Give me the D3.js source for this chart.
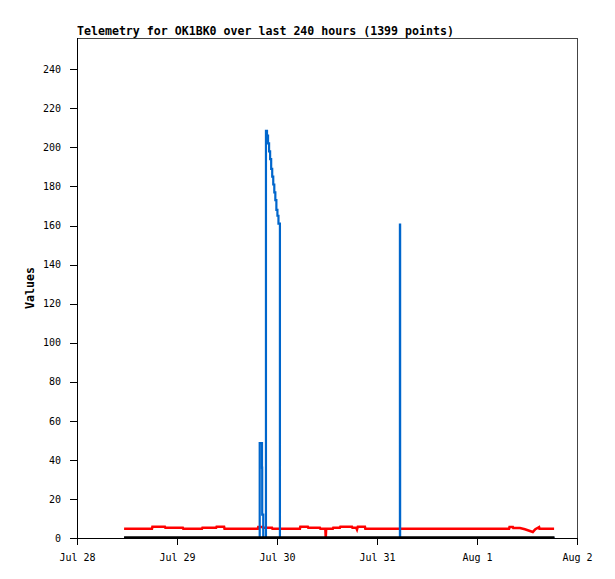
<!DOCTYPE html>
<html>
<head>
<meta charset="utf-8">
<script src="https://cdn.jsdelivr.net/npm/d3@7"></script>
<style>
  body { margin: 0; background: #fff; }
  .tick text { font-family: "DejaVu Sans Mono", monospace; font-size: 10px; }
</style>
</head>
<body>
<script>

// hours since Jul 28 00:00, value
var redSeries = [
  [11.3,4.8],[18.0,4.8],[18.1,5.8],[21.1,5.8],[21.2,5.3],[25.4,5.3],[25.5,4.8],[30.0,4.8],
  [30.1,5.3],[33.4,5.3],[33.5,5.8],[35.3,5.8],[35.4,4.8],[43.4,4.8],[43.5,5.6],[44.6,5.6],
  [44.7,5.3],[46.8,5.3],[46.9,4.8],[53.5,4.8],[53.6,5.8],[55.4,5.8],[55.5,5.3],[58.3,5.3],
  [58.4,4.8],[59.6,4.8],[59.7,0],[59.8,4.8],[61.4,4.8],[61.5,5.3],[63.1,5.3],[63.2,5.8],
  [66.0,5.8],[66.1,5.3],[67.0,5.3],[67.2,4.3],[67.4,5.8],[69.1,5.8],[69.2,4.8],[103.7,4.8],
  [103.8,5.6],[104.6,5.6],[104.7,5.1],[106.3,5.1],[107.5,4.5],[109.4,3.1],[110.0,4.5],
  [110.9,5.6],[111.0,4.8],[114.5,4.8]
];

// sampled values, drawn as steps
var blueSeries = [
  [11.3,0],[43.85,48.6],[44.4,36],[44.45,12],[44.7,0],
  [45.35,208.5],[45.6,206],[45.85,202],[46.1,198],[46.35,194],[46.6,189],[46.85,185],
  [47.1,181],[47.35,177],[47.6,173],[47.85,168],[48.1,165],[48.35,161],[48.7,0],
  [77.5,160.5],[77.55,0],[114.6,0]
];

var blackSeries = [[11.3,0.3],[114.6,0.3]];

var xTickHours = [0, 24, 48, 72, 96, 120];
var xTickLabels = ["Jul 28", "Jul 29", "Jul 30", "Jul 31", "Aug 1", "Aug 2"];
var yTicks = [0, 20, 40, 60, 80, 100, 120, 140, 160, 180, 200, 220, 240];

var width = 615, height = 579;
var margin = {left: 77, top: 38, right: 38, bottom: 41};

var svg = d3.select("body").append("svg")
    .attr("width", width)
    .attr("height", height);

svg.append("rect").attr("width", width).attr("height", height).attr("fill", "#fff");

var x = d3.scaleLinear()
    .domain([0, 120])
    .range([margin.left, width - margin.right]);

var y = d3.scaleLinear()
    .domain([0, 256])
    .range([height - margin.bottom, margin.top]);

// frame (top / right)
svg.append("path")
    .attr("d", "M" + x(0) + "," + y(256) + "H" + x(120) + "V" + y(0))
    .attr("fill", "none")
    .attr("stroke", "#444")
    .attr("stroke-width", 1)
    .attr("shape-rendering", "crispEdges");

var line = d3.line()
    .x(function(d) { return x(d[0]); })
    .y(function(d) { return y(d[1]); });

var stepLine = d3.line()
    .curve(d3.curveStepAfter)
    .x(function(d) { return x(d[0]); })
    .y(function(d) { return y(d[1]); });

svg.append("path").datum(redSeries)
    .attr("d", line).attr("fill", "none")
    .attr("stroke", "#ff0000").attr("stroke-width", 2.5);

svg.append("path").datum(blueSeries)
    .attr("d", stepLine).attr("fill", "none")
    .attr("stroke", "#0066cc").attr("stroke-width", 2.2)
    .attr("stroke-linejoin", "miter");

svg.append("path").datum(blackSeries)
    .attr("d", line).attr("fill", "none")
    .attr("stroke", "#000").attr("stroke-width", 2.5);

// axes
var yAxis = d3.axisLeft(y)
    .tickValues(yTicks)
    .tickSize(7)
    .tickPadding(9);

var xAxis = d3.axisBottom(x)
    .tickValues(xTickHours)
    .tickFormat(function(d, i) { return xTickLabels[i]; })
    .tickSize(7)
    .tickPadding(9);

var gy = svg.append("g")
    .attr("transform", "translate(" + margin.left + ",0)")
    .call(yAxis);
gy.select(".domain").attr("d", "M0," + y(0) + "V" + y(256)).attr("shape-rendering", "crispEdges");
gy.selectAll(".tick line").attr("shape-rendering", "crispEdges");

var gx = svg.append("g")
    .attr("transform", "translate(0," + y(0) + ")")
    .call(xAxis);
gx.select(".domain").attr("d", "M" + x(0) + ",0H" + x(120)).attr("shape-rendering", "crispEdges");
gx.selectAll(".tick line").attr("shape-rendering", "crispEdges");

svg.selectAll(".tick text").attr("fill", "#000");

// title
svg.append("text")
    .attr("x", margin.left)
    .attr("y", 35)
    .style("font-family", "'DejaVu Sans Mono', monospace")
    .style("font-weight", "bold")
    .style("font-size", "11.6px")
    .text("Telemetry for OK1BK0 over last 240 hours (1399 points)");

// y label
svg.append("text")
    .attr("transform", "translate(34," + ((y(0) + y(256)) / 2) + ") rotate(-90)")
    .attr("text-anchor", "middle")
    .style("font-family", "'DejaVu Sans Mono', monospace")
    .style("font-weight", "bold")
    .style("font-size", "11.6px")
    .text("Values");

</script>
</body>
</html>
